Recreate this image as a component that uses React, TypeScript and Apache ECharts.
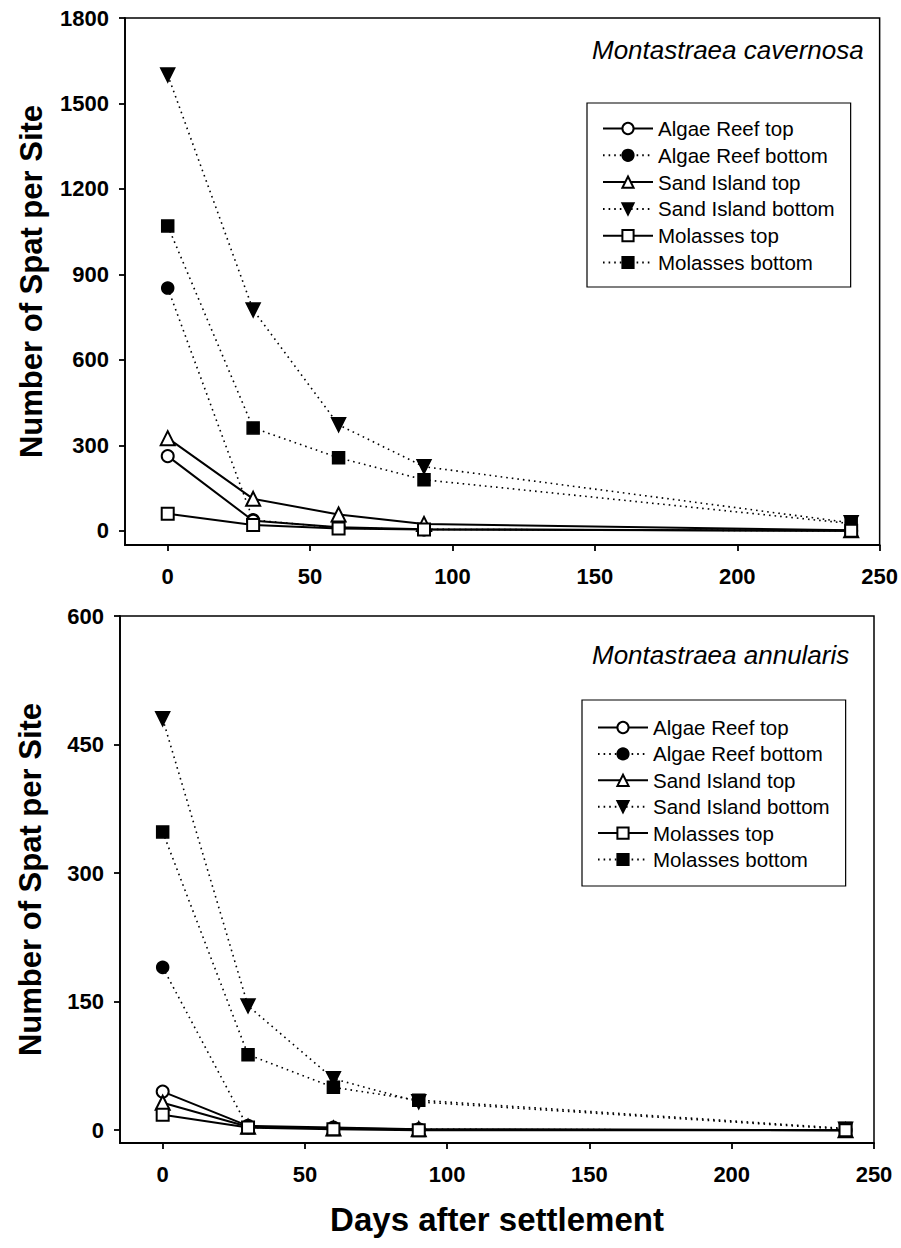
import React, { useEffect, useRef } from "react";
import * as echarts from "echarts";

// ---------- data ----------
const days = [0, 30, 60, 90, 240];
const seriesNames = [
  "Algae Reef top",
  "Algae Reef bottom",
  "Sand Island top",
  "Sand Island bottom",
  "Molasses top",
  "Molasses bottom",
];

// Montastraea cavernosa
const cavAlgaeTop = [262, 35, 12, 5, 0];
const cavAlgaeBottom = [852, 38, 10, 5, 0];
const cavSandTop = [325, 112, 57, 24, 2];
const cavSandBottom = [1600, 775, 372, 225, 28];
const cavMolassesTop = [60, 20, 8, 4, 0];
const cavMolassesBottom = [1070, 361, 256, 179, 25];

// Montastraea annularis
const annAlgaeTop = [45, 5, 3, 1, 0];
const annAlgaeBottom = [190, 3, 2, 1, 0];
const annSandTop = [32, 4, 2, 1, 0];
const annSandBottom = [480, 145, 60, 33, 1];
const annMolassesTop = [18, 3, 1, 0, 0];
const annMolassesBottom = [348, 88, 50, 35, 2];

const xTicks = [0, 50, 100, 150, 200, 250];
const yTicksTop = [0, 300, 600, 900, 1200, 1500, 1800];
const yTicksBottom = [0, 150, 300, 450, 600];

const titles = ["Montastraea cavernosa", "Montastraea annularis"];
const yAxisTitle = "Number of Spat per Site";
const xAxisTitle = "Days after settlement";

// ---------- styles ----------
const FONT = '"Liberation Sans", Arial, Helvetica, sans-serif';
const markerStyles = [
  { symbol: "emptyCircle", size: 12, rotate: 0, dotted: false },
  { symbol: "circle", size: 12, rotate: 0, dotted: true },
  { symbol: "emptyTriangle", size: 14, rotate: 0, dotted: false },
  { symbol: "triangle", size: 14, rotate: 180, dotted: true },
  { symbol: "emptyRect", size: 12, rotate: 0, dotted: false },
  { symbol: "rect", size: 12, rotate: 0, dotted: true },
];

const panels = [
  {
    values: [cavAlgaeTop, cavAlgaeBottom, cavSandTop, cavSandBottom, cavMolassesTop, cavMolassesBottom],
    yMin: -50,
    yMax: 1800,
    yTicks: yTicksTop,
    grid: { left: 125, top: 18, width: 755, height: 527 },
    title: { left: 587, top: 32 },
    legend: { left: 587, top: 103, itemGap: 5.8, padding: [15, 16, 14, 15] },
    yNameGap: 78,
  },
  {
    values: [annAlgaeTop, annAlgaeBottom, annSandTop, annSandBottom, annMolassesTop, annMolassesBottom],
    yMin: -15,
    yMax: 600,
    yTicks: yTicksBottom,
    grid: { left: 120, top: 616, width: 754, height: 527 },
    title: { left: 587, top: 637 },
    legend: { left: 582, top: 700, itemGap: 5.4, padding: [17, 16, 16, 15] },
    yNameGap: 74,
  },
];

export default function App() {
  const ref = useRef<HTMLDivElement>(null);

  useEffect(() => {
    document.body.style.margin = "0";
    if (!ref.current) return;
    const chart = echarts.init(ref.current, undefined, { renderer: "svg" });

    const tickLabel = {
      fontSize: 22,
      fontWeight: "bold" as const,
      color: "#000",
      fontFamily: FONT,
      formatter: (v: number) => String(v),
    };
    const axisLineStyle = { color: "#000", width: 1.8 };

    const option: any = {
      animation: false,
      backgroundColor: "#fff",
      title: panels.map((p, i) => ({
        text: titles[i],
        left: p.title.left,
        top: p.title.top,
        textStyle: {
          fontSize: 26,
          fontStyle: "italic",
          fontWeight: "normal",
          color: "#000",
          fontFamily: FONT,
        },
      })),
      legend: panels.map((p) => ({
        data: seriesNames,
        orient: "vertical",
        left: p.legend.left,
        top: p.legend.top,
        itemWidth: 50,
        itemHeight: 14,
        itemGap: p.legend.itemGap,
        padding: p.legend.padding,
        borderColor: "#000",
        borderWidth: 1.2,
        selectedMode: false,
        textStyle: { fontSize: 20.5, lineHeight: 21, color: "#000", fontFamily: FONT },
      })),
      grid: panels.map((p) => ({
        ...p.grid,
        show: true,
        borderColor: "#000",
        borderWidth: 1.5,
        backgroundColor: "transparent",
      })),
      xAxis: panels.map((p, i) => ({
        type: "value",
        gridIndex: i,
        min: -15,
        max: 250,
        axisLine: { show: true, onZero: false, lineStyle: axisLineStyle },
        axisTick: { show: true, length: 6, customValues: xTicks, lineStyle: axisLineStyle },
        axisLabel: { ...tickLabel, customValues: xTicks, margin: 20 },
        splitLine: { show: false },
        name: i === 1 ? xAxisTitle : "",
        nameLocation: "middle",
        nameGap: 60,
        nameTextStyle: { fontSize: 33, fontWeight: "bold", color: "#000", fontFamily: FONT },
      })),
      yAxis: panels.map((p, i) => ({
        type: "value",
        gridIndex: i,
        min: p.yMin,
        max: p.yMax,
        axisLine: { show: true, onZero: false, lineStyle: axisLineStyle },
        axisTick: { show: true, length: 6, customValues: p.yTicks, lineStyle: axisLineStyle },
        axisLabel: { ...tickLabel, customValues: p.yTicks, margin: 16 },
        splitLine: { show: false },
        name: yAxisTitle,
        nameLocation: "middle",
        nameGap: p.yNameGap,
        nameTextStyle: { fontSize: 31, fontWeight: "bold", color: "#000", fontFamily: FONT },
      })),
      series: panels.flatMap((p, gi) =>
        seriesNames.map((name, si) => {
          const st = markerStyles[si];
          return {
            type: "line",
            name,
            xAxisIndex: gi,
            yAxisIndex: gi,
            data: days.map((d, k) => [d, p.values[si][k]]),
            symbol: st.symbol,
            symbolSize: st.size,
            symbolRotate: st.rotate,
            showSymbol: true,
            silent: true,
            z: st.dotted ? 2 : 3,
            lineStyle: {
              color: "#000",
              width: st.dotted ? 1.6 : 2,
              type: st.dotted ? [1.6, 4] : "solid",
            },
            itemStyle: { color: "#000", borderColor: "#000", borderWidth: 1.5 },
            emphasis: { disabled: true },
          };
        })
      ),
    };

    chart.setOption(option);
    return () => chart.dispose();
  }, []);

  return <div ref={ref} style={{ width: 901, height: 1248 }} />;
}
